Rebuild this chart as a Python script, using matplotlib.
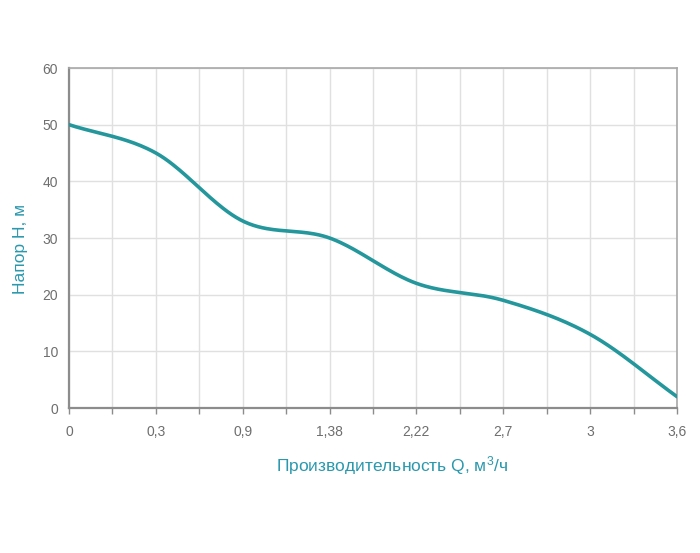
import numpy as np
import matplotlib
matplotlib.use("Agg")
import matplotlib.pyplot as plt

plt.rcParams['font.family'] = ['Liberation Sans', 'DejaVu Sans']
plt.rcParams['mathtext.fontset'] = 'custom'
plt.rcParams['mathtext.rm'] = 'Liberation Sans'
plt.rcParams['mathtext.it'] = 'Liberation Sans'
plt.rcParams['mathtext.bf'] = 'Liberation Sans'

q_labels = ["0", "0,3", "0,9", "1,38", "2,22", "2,7", "3", "3,6"]
head = [50, 45, 33, 30, 22, 19, 13, 2]

def catmull_rom(y, n=40):
    y = np.asarray(y, float)
    m = np.zeros_like(y)
    m[1:-1] = (y[2:] - y[:-2]) / 2
    m[0] = y[1] - y[0]
    m[-1] = y[-1] - y[-2]
    xs, ys = [], []
    for i in range(len(y) - 1):
        t = np.linspace(0, 1, n, endpoint=(i == len(y) - 2))
        h00 = 2*t**3 - 3*t**2 + 1
        h10 = t**3 - 2*t**2 + t
        h01 = -2*t**3 + 3*t**2
        h11 = t**3 - t**2
        xs.append(i + t)
        ys.append(h00*y[i] + h10*m[i] + h01*y[i+1] + h11*m[i+1])
    return np.concatenate(xs), np.concatenate(ys)

fig = plt.figure(figsize=(7, 5.53), dpi=100)
ax = fig.add_axes([69/700, 145/553, 608/700, 340/553])

x = np.arange(len(head))
sx, sy = catmull_rom(head)
ax.plot(sx, sy, color='#23979c', lw=2.6, solid_capstyle='round', zorder=3)

ax.set_xlim(0, len(head) - 1)
ax.set_ylim(0, 60)
ax.set_xticks(x)
ax.set_xticklabels(q_labels)
ax.set_xticks(np.arange(0.5, len(head) - 1, 1), minor=True)
ax.set_yticks(np.arange(0, 61, 10))

ax.grid(True, which='both', axis='x', color='#e0e0e0', lw=1)
ax.grid(True, which='major', axis='y', color='#e0e0e0', lw=1)
ax.set_axisbelow(True)

for s in ['top', 'right']:
    ax.spines[s].set_color('#a8a8a8')
    ax.spines[s].set_linewidth(1.2)
for s in ['left', 'bottom']:
    ax.spines[s].set_color('#8c8c8c')
    ax.spines[s].set_linewidth(1.6)

ax.tick_params(axis='x', which='both', length=4, width=1, color='#8c8c8c',
               labelsize=10, labelcolor='#6e6e6e', pad=8)
ax.tick_params(axis='y', length=0, labelsize=10, labelcolor='#6e6e6e', pad=8)

ax.set_xlabel('Производительность Q, м$^3$/ч', color='#2a98ad', fontsize=12.5)
ax.xaxis.set_label_coords((392 - 69) / 608, -0.135)
ax.set_ylabel('Напор H, м', color='#2a98ad', fontsize=12.5)
ax.yaxis.set_label_coords((28 - 69) / 608, 0.468)

fig.savefig('out.png', dpi=100, facecolor='white')
